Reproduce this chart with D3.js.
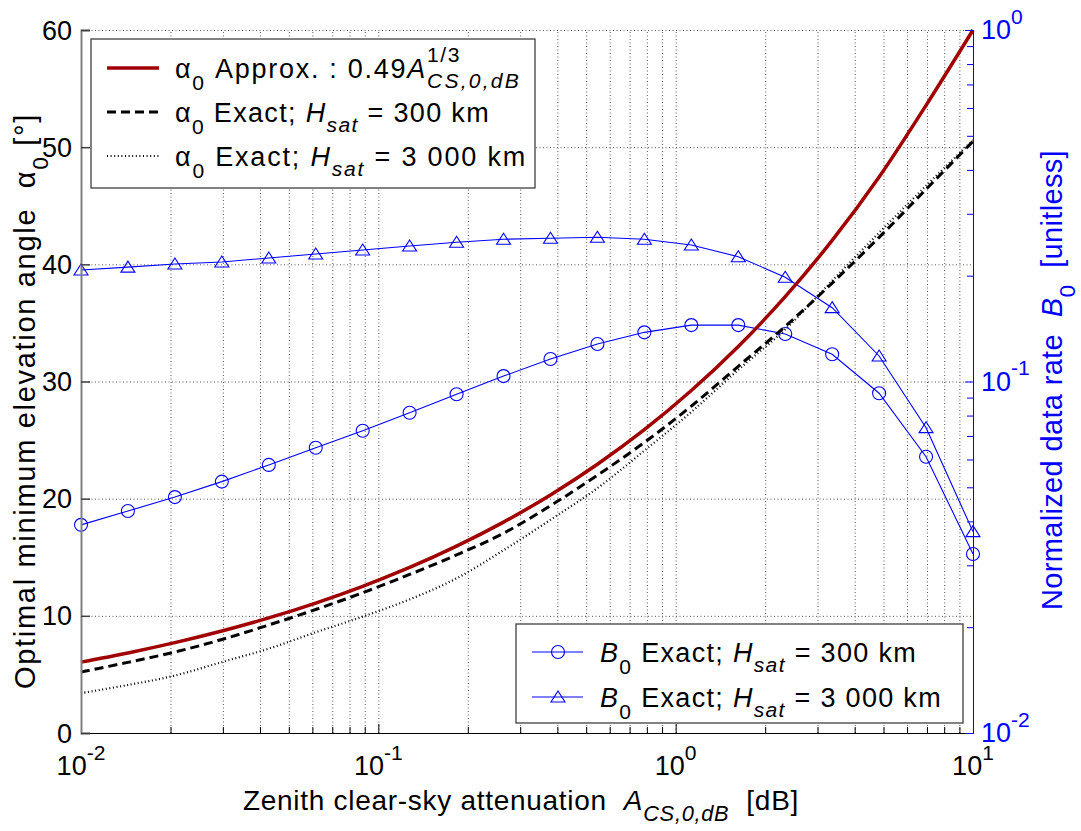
<!DOCTYPE html>
<html lang="en">
<head>
<meta charset="UTF-8">
<title>Optimal minimum elevation angle</title>
<style>
  body { margin: 0; background: #fff; }
  svg text { font-family: "Liberation Sans", Arial, Helvetica, sans-serif; }
</style>
</head>
<body>
<svg id="svg" width="1081" height="831"></svg>
<script src="https://d3js.org/d3.v7.min.js"></script>
<script>
// zenith clear-sky attenuation samples [dB]
const atten = [0.01, 0.01438, 0.02069, 0.02976, 0.04281, 0.06158, 0.08859, 0.1274, 0.1833, 0.2637,
               0.3793, 0.5456, 0.7848, 1.129, 1.624, 2.336, 3.360, 4.833, 6.952, 10]
// optimal minimum elevation angle [deg]
const alphaApprox = [6.05, 6.83, 7.71, 8.70, 9.82, 11.09, 12.52, 14.13, 15.95, 18.00,
                     20.32, 22.94, 25.89, 29.23, 32.99, 37.24, 42.04, 47.45, 53.57, 60.0]
const alpha300 = [5.2, 6.03, 6.91, 7.98, 9.22, 10.54, 11.97, 13.53, 15.2, 17.05,
                  19.4, 22.0, 24.8, 27.9, 31.3, 34.7, 38.4, 42.3, 46.4, 50.5]
const alpha3000 = [3.4, 4.1, 4.9, 6.05, 7.2, 8.6, 9.93, 11.4, 13.2, 15.6,
                   18.2, 20.9, 24.1, 27.4, 31.0, 34.45, 38.6, 42.7, 46.7, 50.6]
// normalized data rate B0 [unitless]
const rate300 = [0.0391, 0.0428, 0.0469, 0.0519, 0.0579, 0.0648, 0.0724, 0.0815, 0.0920, 0.1036,
                 0.1159, 0.1279, 0.1380, 0.1447, 0.1447, 0.1365, 0.1195, 0.0926, 0.0611, 0.0323]
const rate3000 = [0.2075, 0.2116, 0.2159, 0.2188, 0.2246, 0.2305, 0.2366, 0.2429, 0.2489, 0.2539,
                  0.2555, 0.2572, 0.2539, 0.2445, 0.2265, 0.1979, 0.1622, 0.1182, 0.0739, 0.0374]
// ticks
const xMajor = [0.01, 0.1, 1, 10]
const xExp = ['-2', '-1', '0', '1']
const leftTicks = [0, 10, 20, 30, 40, 50, 60]
const rightMajor = [0.01, 0.1, 1]
const rightExp = ['-2', '-1', '0']

const L = 81, R = 973, T = 30, B = 733
const blue = '#0000ff'

const svg = d3.select('#svg')
const x = d3.scaleLog().domain([0.01, 10]).range([L, R])
const yL = d3.scaleLinear().domain([0, 60]).range([B, T])
const yR = d3.scaleLog().domain([0.01, 1]).range([B, T])

// text with sub/superscripts; o.width stretches letter spacing to a target width
function rich(parent, px, py, parts, o = {}) {
    const size = o.size || 27
    const t = parent.append('text').attr('x', px).attr('y', py)
        .style('font-size', size + 'px').style('white-space', 'pre')
        .attr('fill', o.color || '#000')
    let cur = 0, n = 0
    parts.forEach(p => {
        const q = typeof p === 'string' ? { t: p } : p
        const shift = q.sub ? size * (q.sub === true ? 0.38 : q.sub) : q.sup ? -size * 0.57 : 0
        const s = t.append('tspan').text(q.t).attr('dy', shift - cur)
        cur = shift
        n += q.t.length
        if (q.sub || q.sup) s.style('font-size', (size * 0.78) + 'px')
        if (q.it) s.style('font-style', 'italic')
    })
    if (o.width) {
        const w0 = t.node().getComputedTextLength()
        t.style('letter-spacing', ((o.width - w0) / n) + 'px')
    }
    if (o.anchor === 'middle' || o.anchor === 'end') {
        const w = o.width || t.node().getComputedTextLength()
        t.attr('x', px - (o.anchor === 'middle' ? w / 2 : w))
    }
    return t
}

// grid
const allX = x.ticks().filter(v => v > 0.01 && v < 10)
svg.append('g').attr('transform', `translate(0,${B})`)
    .call(d3.axisBottom(x).tickValues(allX).tickSize(-(B - T)).tickFormat(''))
    .call(g => g.select('.domain').remove())
    .selectAll('line').attr('stroke', '#555').attr('stroke-dasharray', '1,2.5')
svg.append('g').attr('transform', `translate(${L},0)`)
    .call(d3.axisLeft(yL).tickValues(leftTicks.slice(1)).tickSize(-(R - L)).tickFormat(''))
    .call(g => g.select('.domain').remove())
    .selectAll('line').attr('stroke', '#555').attr('stroke-dasharray', '1,2.5')

// B0 curves
const tri = 'M0,-6 L7,5 L-7,5 Z'
function rateSeries(vals, marker) {
    const pts = atten.map((a, i) => [x(a), yR(vals[i])])
    svg.append('path').attr('d', d3.line()(pts))
        .attr('fill', 'none').attr('stroke', blue).attr('stroke-width', 1.1)
    const g = svg.append('g')
    pts.forEach(p => {
        if (marker === 'o') g.append('circle').attr('cx', p[0]).attr('cy', p[1]).attr('r', 6.5)
        else g.append('path').attr('d', tri).attr('transform', `translate(${p[0]},${p[1]})`)
    })
    g.selectAll('*').attr('fill', 'none').attr('stroke', blue).attr('stroke-width', 1.1)
}
rateSeries(rate300, 'o')
rateSeries(rate3000, '^')

// alpha curves
const alphaLine = d3.line().x((d, i) => x(atten[i])).y(d => yL(d)).curve(d3.curveCatmullRom)
svg.append('path').attr('d', alphaLine(alpha3000)).attr('fill', 'none')
    .attr('stroke', '#000').attr('stroke-width', 2.2).attr('stroke-dasharray', '1,2.6')
svg.append('path').attr('d', alphaLine(alpha300)).attr('fill', 'none')
    .attr('stroke', '#000').attr('stroke-width', 3).attr('stroke-dasharray', '9,5')
svg.append('path').attr('d', alphaLine(alphaApprox)).attr('fill', 'none')
    .attr('stroke', '#a00000').attr('stroke-width', 3.5)

// bottom axis
const minorX = x.ticks().filter(v => !xMajor.includes(v))
svg.append('g').attr('transform', `translate(0,${B})`)
    .call(d3.axisBottom(x).tickValues(minorX).tickSize(-6).tickFormat(''))
    .call(g => g.select('.domain').attr('stroke', '#000'))
svg.append('g').attr('transform', `translate(0,${B})`)
    .call(d3.axisBottom(x).tickValues(xMajor).tickSize(-9).tickFormat(''))
    .call(g => g.select('.domain').remove())
xMajor.forEach((v, i) => rich(svg, x(v), 775, ['10', { t: xExp[i], sup: true }], { anchor: 'middle' }))

// left axis
svg.append('g').attr('transform', `translate(${L},0)`)
    .call(d3.axisLeft(yL).tickValues(leftTicks).tickSize(-9).tickFormat(''))
    .call(g => g.select('.domain').attr('stroke', '#808080').attr('stroke-width', 2))
    .selectAll('.tick line').attr('stroke', '#404040').attr('stroke-width', 1.5)
leftTicks.forEach(v => rich(svg, 72, yL(v) + 9.5, [String(v)], { anchor: 'end' }))

// right axis
const minorR = yR.ticks().filter(v => !rightMajor.includes(v))
svg.append('g').attr('transform', `translate(${R},0)`)
    .call(d3.axisRight(yR).tickValues(minorR).tickSize(-6).tickFormat(''))
    .call(g => g.selectAll('path, line').attr('stroke', blue))
svg.append('g').attr('transform', `translate(${R},0)`)
    .call(d3.axisRight(yR).tickValues(rightMajor).tickSize(-8).tickFormat(''))
    .call(g => g.select('.domain').remove())
    .call(g => g.selectAll('line').attr('stroke', blue))
rightMajor.forEach((v, i) => rich(svg, 981, yR(v) + 9, ['10', { t: rightExp[i], sup: true }], { color: blue }))

// axis labels
rich(svg, 521, 810, ['Zenith clear-sky attenuation  ', { t: 'A', it: true }, { t: 'CS,0,dB', sub: true, it: true }, '  [dB]'],
    { anchor: 'middle', width: 556, size: 28 })
rich(svg.append('g').attr('transform', 'translate(35,401) rotate(-90)'), 0, 0,
    ['Optimal minimum elevation angle  α', { t: '0', sub: 0.45 }, ' [°]'], { anchor: 'middle', width: 576, size: 29 })
rich(svg.append('g').attr('transform', 'translate(1062,380) rotate(-90)'), 0, 0,
    ['Normalized data rate  ', { t: 'B', it: true }, { t: '0', sub: 0.45 }, '  [unitless]'],
    { anchor: 'middle', color: blue, width: 460, size: 29 })

// legend: elevation angle
const lg1 = svg.append('g')
lg1.append('rect').attr('x', 91).attr('y', 39).attr('width', 444).attr('height', 149)
    .attr('fill', '#fff').attr('stroke', '#404040').attr('stroke-width', 1.3)
const rows1 = [68, 112, 156]
lg1.append('line').attr('x1', 107).attr('x2', 159).attr('y1', rows1[0]).attr('y2', rows1[0])
    .attr('stroke', '#a00000').attr('stroke-width', 3.5)
lg1.append('line').attr('x1', 107).attr('x2', 159).attr('y1', rows1[1]).attr('y2', rows1[1])
    .attr('stroke', '#000').attr('stroke-width', 3).attr('stroke-dasharray', '9,5')
lg1.append('line').attr('x1', 107).attr('x2', 159).attr('y1', rows1[2]).attr('y2', rows1[2])
    .attr('stroke', '#000').attr('stroke-width', 2.2).attr('stroke-dasharray', '1,2.6')
rich(lg1, 175, rows1[0] + 9.5, ['α', { t: '0', sub: 0.45 }, ' Approx. : 0.49', { t: 'A', it: true }], { width: 252 })
rich(lg1, 427, rows1[0] + 9.5, [{ t: '1/3', sup: true }], { width: 34 })
rich(lg1, 427, rows1[0] + 9.5, [{ t: 'CS,0,dB', sub: true, it: true }], { width: 94 })
rich(lg1, 175, rows1[1] + 9.5, ['α', { t: '0', sub: 0.45 }, ' Exact; ', { t: 'H', it: true }, { t: 'sat', sub: true, it: true }, ' = 300 km'], { width: 315 })
rich(lg1, 175, rows1[2] + 9.5, ['α', { t: '0', sub: 0.45 }, ' Exact; ', { t: 'H', it: true }, { t: 'sat', sub: true, it: true }, ' = 3 000 km'], { width: 352 })

// legend: data rate
const lg2 = svg.append('g')
lg2.append('rect').attr('x', 516).attr('y', 624).attr('width', 447).attr('height', 99)
    .attr('fill', '#fff').attr('stroke', '#404040').attr('stroke-width', 1.3)
const rows2 = [652, 697]
const labels2 = ['300 km', '3 000 km']
const widths2 = [317, 342]
rows2.forEach((ry, i) => {
    lg2.append('line').attr('x1', 532).attr('x2', 583).attr('y1', ry).attr('y2', ry)
        .attr('stroke', blue).attr('stroke-width', 1.1)
    const m = i === 0
        ? lg2.append('circle').attr('cx', 558).attr('cy', ry).attr('r', 6.5)
        : lg2.append('path').attr('d', tri).attr('transform', `translate(558,${ry})`)
    m.attr('fill', 'none').attr('stroke', blue).attr('stroke-width', 1.1)
    rich(lg2, 600, ry + 9.5, [{ t: 'B', it: true }, { t: '0', sub: 0.45 }, ' Exact; ', { t: 'H', it: true }, { t: 'sat', sub: true, it: true }, ' = ' + labels2[i]],
        { width: widths2[i] })
})
</script>
</body>
</html>
